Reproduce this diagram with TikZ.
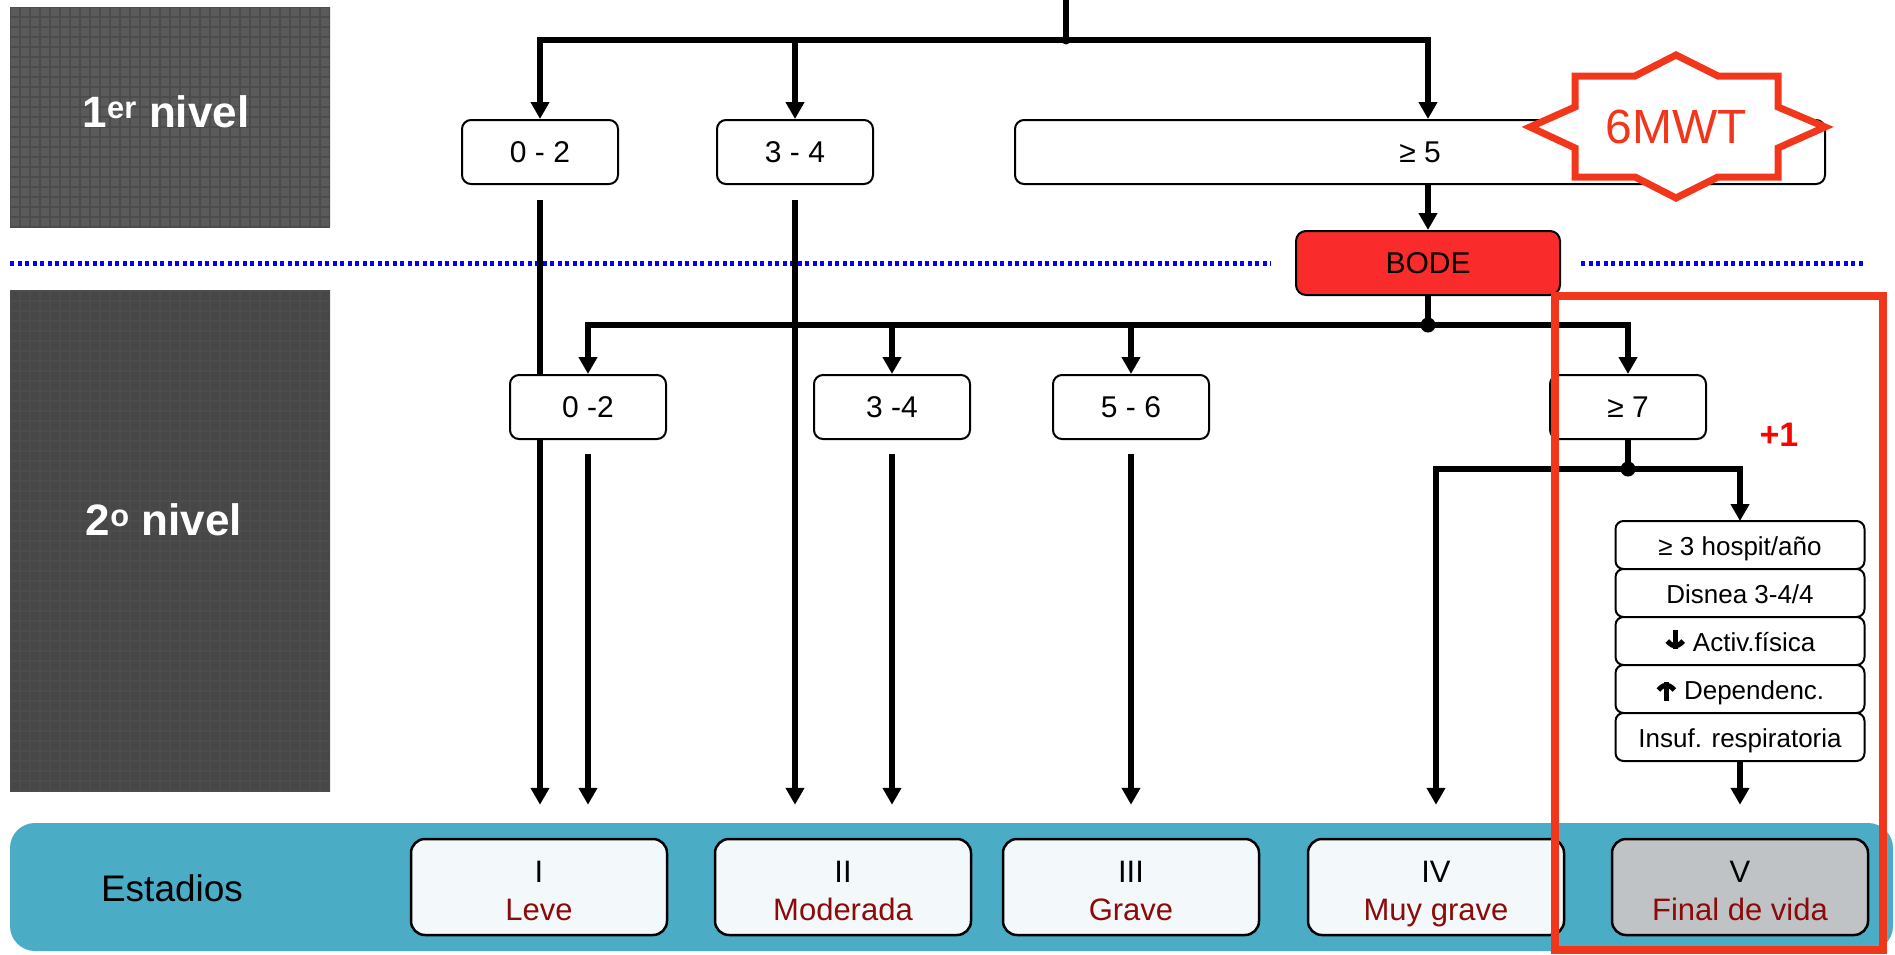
\documentclass[tikz,border=0pt]{standalone}
\usepackage{fontspec}
\setmainfont{Liberation Sans}
\usetikzlibrary{arrows.meta,positioning,calc}

\definecolor{grisuno}{HTML}{5A5A5A}
\definecolor{grisdos}{HTML}{474747}
\definecolor{banda}{HTML}{4BACC6}
\definecolor{rojo}{HTML}{F2361C}
\definecolor{bode}{HTML}{FA2B2B}
\definecolor{granate}{HTML}{8B0A0A}
\definecolor{estadio}{HTML}{F3F8FA}
\definecolor{estadiogris}{HTML}{C0C3C5}

% texto de los estadios
\newcommand\etapa[2]{\rule{0pt}{35pt}#1\\\textcolor{granate}{#2}\vphantom{y}}
% flechas gruesas de los criterios
\newcommand\flechaabajo{\tikz[baseline=0pt,x=1pt,y=1pt]{\draw[-,line width=5pt] (0,21) -- (0,2);
\draw[-,line width=5pt,line join=miter] (-8,10) -- (0,2) -- (8,10);}}
\newcommand\flechaarriba{\tikz[baseline=0pt,x=1pt,y=1pt]{\draw[-,line width=5pt] (0,-2) -- (0,17);
\draw[-,line width=5pt,line join=miter] (-8,9) -- (0,17) -- (8,9);}}

\begin{document}
\begin{tikzpicture}[x=1pt,y=-1pt,->,>={Triangle[length=17pt,width=18pt]},
font=\fontsize{30}{36}\selectfont]

\tikzstyle{flecha}=[->,line width=5.5pt]
\tikzstyle{linea}=[-,line width=5.5pt]
\tikzstyle{nivel}=[rectangle, draw=none, minimum width=320pt, inner sep=0pt,
path picture={\draw[-,step=10pt,black!70,line width=1.2pt]
(path picture bounding box.south west) grid (path picture bounding box.north east);}]
\tikzstyle{niveltexto}=[text=white, font=\fontsize{44}{50}\selectfont\bfseries]
\tikzstyle{puntaje}=[rectangle, rounded corners=9pt, draw, line width=2pt, fill=white,
minimum height=64pt, minimum width=156pt, inner sep=0pt]
\tikzstyle{criterio}=[rectangle, rounded corners=8pt, draw, line width=2pt, fill=white,
minimum height=48pt, minimum width=249pt, inner sep=0pt, outer sep=0pt,
text height=22pt, text depth=2pt, font=\fontsize{26}{30}\selectfont]
\tikzstyle{estadio}=[rectangle, rounded corners=14pt, draw, line width=2.5pt, fill=estadio,
minimum height=96pt, minimum width=256pt, inner sep=0pt, align=center,
font=\fontsize{31}{38}\selectfont]

\useasboundingbox (0,0) rectangle (1895,954);

%niveles
\node[nivel,fill=grisuno,minimum height=220pt]
(n1) at (170,117)
{};
\node[niveltexto]
(t1) at (166,112)
{1\textsuperscript{er} nivel};

\node[nivel,fill=grisdos,minimum height=502pt]
(n2) at (170,541)
{};
\node[niveltexto]
(t2) at (164,520)
{2\textsuperscript{o} nivel};

\draw[-,blue,line width=5pt,dash pattern=on 4pt off 3.5pt] (10,263) -- (1271,263);
\draw[-,blue,line width=5pt,dash pattern=on 4pt off 3.5pt] (1581,263) -- (1865,263);

%estadios
\fill[banda,rounded corners=25pt] (10,823) rectangle (1893,951);

\node[text=black,font=\fontsize{37}{44}\selectfont]
(est) at (172,888)
{Estadios};

\node[estadio]
(st1) at (539,887)
{\etapa{I}{Leve}};
\node[estadio]
(st2) at (843,887)
{\etapa{II}{Moderada}};
\node[estadio]
(st3) at (1131,887)
{\etapa{III}{Grave}};
\node[estadio]
(st4) at (1436,887)
{\etapa{IV}{Muy grave}};
\node[estadio,fill=estadiogris]
(st5) at (1740,887)
{\etapa{V}{Final de vida}};

%primer nivel
\coordinate (entrada) at (1066,0);
\coordinate (nodo1) at (1066,40);

\node[puntaje]
(l1a) at (540,152)
{0 - 2};
\node[puntaje]
(l1b) at (795,152)
{3 - 4};
\node[puntaje,minimum width=810pt]
(l1c) at (1420,152)
{≥ 5};

\node[puntaje,fill=bode,minimum width=264pt,rounded corners=10pt]
(bode) at (1428,263)
{BODE};

\draw[linea] (entrada) -- (nodo1);
\fill (nodo1) circle (4.5);
\draw[flecha] (nodo1) -| (l1a.north);
\draw[flecha] (nodo1) -| (l1b.north);
\draw[flecha] (nodo1) -| (bode |- l1c.north);
\draw[flecha] (bode |- l1c.south) -- (bode.north);

\draw[flecha,shorten <=15pt,shorten >=33pt] (l1a.south) -- (l1a.south |- st1.north);
\draw[flecha,shorten <=15pt,shorten >=33pt] (l1b.south) -- (l1b.south |- st2.north);

%segundo nivel
\coordinate (nodo2) at (1428,325);

\draw[linea] (bode.south) -- (nodo2);
\fill (nodo2) circle (7.5);

\node[puntaje]
(l2a) at (588,407)
{0 -2};
\node[puntaje]
(l2b) at (892,407)
{3 -4};
\node[puntaje]
(l2c) at (1131,407)
{5 - 6};
\node[puntaje]
(l2d) at (1628,407)
{≥ 7};

\draw[flecha] (nodo2) -| (l2a.north);
\draw[flecha] (nodo2) -| (l2b.north);
\draw[flecha] (nodo2) -| (l2c.north);
\draw[flecha] (nodo2) -| (l2d.north);

\draw[flecha,shorten <=14pt,shorten >=33pt] (l2a.south) -- (l2a.south |- st1.north);
\draw[flecha,shorten <=14pt,shorten >=33pt] (l2b.south) -- (l2b.south |- st2.north);
\draw[flecha,shorten <=14pt,shorten >=33pt] (l2c.south) -- (l2c.south |- st3.north);

%criterios
\node[criterio]
(c1) at (1740,545)
{≥ 3 hospit/año};
\node[criterio,below=0pt of c1]
(c2)
{Disnea 3-4/4};
\node[criterio,below=0pt of c2]
(c3)
{\flechaabajo\ Activ.física};
\node[criterio,below=0pt of c3]
(c4)
{\flechaarriba\ Dependenc.};
\node[criterio,below=0pt of c4]
(c5)
{Insuf. respiratoria};

\coordinate (nodo3) at (1628,469);
\draw[linea] (l2d.south) -- (nodo3);
\fill (nodo3) circle (7.5);
\draw[flecha] (nodo3) -| (c1.north);
\draw[flecha,shorten >=33pt] (nodo3) -| (st4.north);
\draw[flecha,shorten >=33pt] (c5.south) -- (st5.north);

%6MWT
\begin{scope}[shift={(1676,127)}]
\draw[-,rojo,fill=white,line width=7pt,line join=miter]
(-146,0) -- (-101,-20) -- (-101,-51) -- (-41,-51) -- (0,-72) -- (42,-51) -- (102,-51)
-- (102,-20) -- (149,0) -- (102,21) -- (102,50) -- (42,50) -- (0,71) -- (-41,50)
-- (-101,50) -- (-101,21) -- cycle;
\node[text=rojo,font=\fontsize{48}{54}\selectfont]
(mwt) at (0,0)
{6MWT};
\end{scope}

%marco
\draw[-,rojo,line width=8pt] (1555,296) rectangle (1883,950);

\node[text=red,font=\fontsize{34}{40}\selectfont\bfseries]
(mas) at (1779,435)
{+1};

\end{tikzpicture}
\end{document}
